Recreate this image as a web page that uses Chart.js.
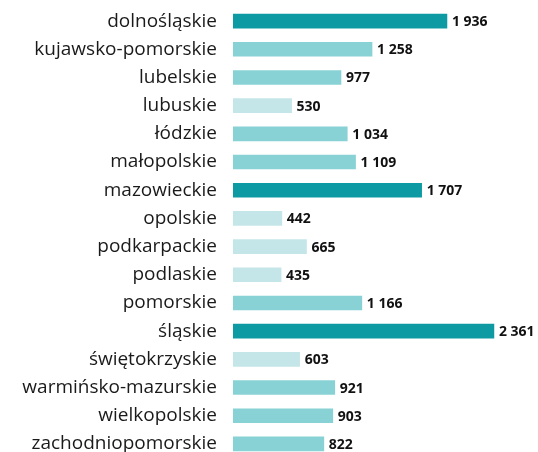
<!DOCTYPE html>
<html>
<head>
<meta charset="utf-8">
<script src="https://cdn.jsdelivr.net/npm/chart.js@4/dist/chart.umd.min.js"></script>
<style>
  html, body { margin: 0; padding: 0; background: #fff; overflow: hidden; }
  #wrap { width: 538px; height: 458px; position: relative; }
</style>
</head>
<body>
<div id="wrap"><canvas id="grafica"></canvas></div>
<script>
const wojewodztwa = [
  'dolnośląskie', 'kujawsko-pomorskie', 'lubelskie', 'lubuskie', 'łódzkie',
  'małopolskie', 'mazowieckie', 'opolskie', 'podkarpackie', 'podlaskie',
  'pomorskie', 'śląskie', 'świętokrzyskie', 'warmińsko-mazurskie',
  'wielkopolskie', 'zachodniopomorskie'
];
const wartosci = [1936, 1258, 977, 530, 1034, 1109, 1707, 442, 665, 435, 1166, 2361, 603, 921, 903, 822];

// kolor zależy od przedziału wartości
function kolor(v) {
  if (v >= 1500) return '#0e9aa2';
  if (v >= 800) return '#88d2d5';
  return '#c5e6e8';
}

function formatuj(v) {
  return String(v).replace(/\B(?=(\d{3})+(?!\d))/g, ' ');
}

const etykietyWartosci = {
  id: 'etykietyWartosci',
  afterDatasetsDraw(chart) {
    const ctx = chart.ctx;
    const meta = chart.getDatasetMeta(0);
    ctx.save();
    ctx.font = 'bold 14px "Open Sans"';
    ctx.fillStyle = '#111';
    ctx.textAlign = 'left';
    ctx.textBaseline = 'middle';
    meta.data.forEach((bar, i) => {
      ctx.fillText(formatuj(wartosci[i]), bar.x + 5, bar.y + 1);
    });
    ctx.restore();
  }
};

const ctx = document.getElementById('grafica').getContext('2d');
new Chart(ctx, {
  type: 'bar',
  data: {
    labels: wojewodztwa,
    datasets: [{
      data: wartosci,
      backgroundColor: wartosci.map(kolor),
      borderWidth: 0,
      barThickness: 14,
      categoryPercentage: 1
    }]
  },
  options: {
    indexAxis: 'y',
    responsive: true,
    maintainAspectRatio: false,
    animation: false,
    layout: { padding: { top: 7, bottom: 0, left: 0, right: 0 } },
    plugins: {
      legend: { display: false },
      tooltip: { enabled: false }
    },
    scales: {
      x: {
        display: false,
        min: 0,
        max: 2760
      },
      y: {
        afterFit(scale) {
          scale.width = 233;
          scale.paddingTop = 0;
          scale.paddingBottom = 0;
        },
        grid: { display: false, drawTicks: false },
        border: { display: false },
        ticks: {
          padding: 16,
          color: '#1a1a1a',
          font: { family: '"Open Sans"', size: 19 }
        }
      }
    }
  },
  plugins: [etykietyWartosci]
});
</script>
</body>
</html>
